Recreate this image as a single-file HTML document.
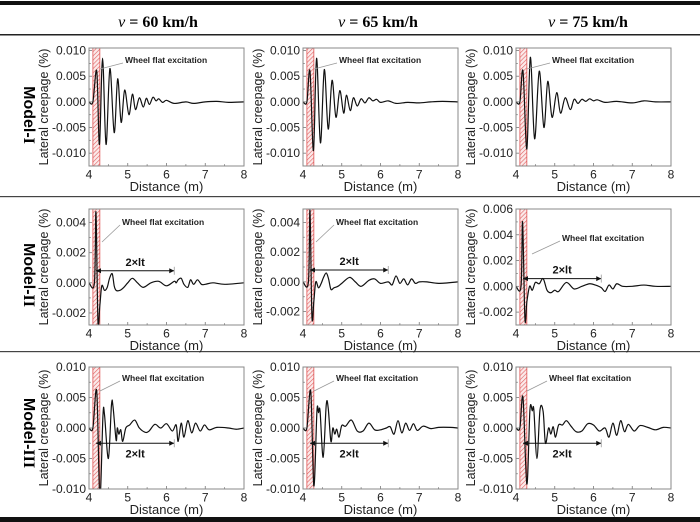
<!DOCTYPE html>
<html><head><meta charset="utf-8">
<style>
html,body{margin:0;padding:0;background:#fff;}
svg{display:block;font-family:"Liberation Sans",Arial,sans-serif;}
</style></head>
<body>
<svg id="fig" width="700" height="522" viewBox="0 0 700 522">
<defs>
<pattern id="hatch" width="3" height="3" patternUnits="userSpaceOnUse" patternTransform="rotate(45)">
<rect width="3" height="3" fill="#fbeaea"/>
<line x1="0" y1="0" x2="0" y2="3" stroke="#e06060" stroke-width="1.2"/>
</pattern>
</defs>
<rect x="0" y="1" width="700" height="4" fill="#111"/>
<rect x="0" y="34" width="700" height="1.5" fill="#222"/>
<rect x="0" y="196" width="700" height="1.2" fill="#444"/>
<rect x="0" y="351" width="700" height="1.2" fill="#444"/>
<rect x="0" y="517" width="700" height="5" fill="#111"/>
<g font-family="'Liberation Serif',serif" font-weight="bold" font-size="16" text-anchor="middle">
<text x="158" y="27"><tspan font-style="italic" font-weight="normal">v</tspan> = 60 km/h</text>
<text x="378" y="27"><tspan font-style="italic" font-weight="normal">v</tspan> = 65 km/h</text>
<text x="588" y="27"><tspan font-style="italic" font-weight="normal">v</tspan> = 75 km/h</text>
</g>
<g font-weight="bold" font-size="16">
<text transform="translate(24,115) rotate(90)" text-anchor="middle">Model-<tspan font-family="'Liberation Serif',serif">I</tspan></text>
<text transform="translate(24,275) rotate(90)" text-anchor="middle">Model-<tspan font-family="'Liberation Serif',serif">II</tspan></text>
<text transform="translate(24,433) rotate(90)" text-anchor="middle">Model-<tspan font-family="'Liberation Serif',serif">III</tspan></text>
</g>
<g id="panels"></g>
</svg>
<script>
const xTicks = [4,5,6,7,8];
const m1v60X = [4,4.1,4.2,4.27,4.35,4.44,4.54,4.65,4.74,4.83,4.92,5.03,5.12,5.2,5.3,5.4,5.48,5.56,5.65,5.73,5.8,5.9,6.0,6.2,6.5,6.7,7.0,7.3,7.6,8];
const m1v60Y = [0,0,0.006,-0.0083,0.0085,-0.0083,0.0065,-0.006,0.0045,-0.004,0.0023,-0.0025,0.0015,-0.0015,0.0008,-0.001,0.0007,-0.0005,0.0009,0.0002,0.0006,-0.0001,0.0003,-0.0003,0,-0.0003,0,0.0001,-0.0001,0];
const m1v65X = [4,4.1,4.18,4.27,4.35,4.45,4.55,4.65,4.75,4.85,4.95,5.05,5.12,5.22,5.3,5.4,5.5,5.6,5.7,5.8,5.9,6.0,6.2,6.4,6.7,7.0,7.3,7.6,8];
const m1v65Y = [0,0,0.006,-0.0095,0.0085,-0.008,0.0063,-0.0053,0.0042,-0.003,0.0022,-0.0022,0.0013,-0.0017,0.0008,-0.0008,0.0006,-0.0002,0.0008,0.0002,0.0005,-0.0001,0.0002,-0.0003,-0.0001,-0.0002,0,0.0001,0];
const m1v75X = [4,4.1,4.18,4.28,4.37,4.48,4.6,4.72,4.82,4.93,5.05,5.15,5.27,5.4,5.5,5.6,5.7,5.8,5.9,6.0,6.1,6.3,6.6,7.0,7.3,7.6,8];
const m1v75Y = [0,0,0.006,-0.0092,0.0087,-0.0072,0.006,-0.005,0.004,-0.003,0.0018,-0.0022,0.0008,-0.0015,0.0005,-0.0003,0.0005,0.0001,0.0006,0.0002,0.0004,-0.0001,0.0001,-0.0002,0.0002,0,0];
const m2v60X = [4,4.14,4.18,4.23,4.28,4.33,4.4,4.47,4.53,4.6,4.65,4.7,4.8,4.9,5.0,5.12,5.25,5.4,5.6,5.8,6.0,6.2,6.25,6.3,6.38,6.45,6.55,6.62,6.7,6.8,6.9,7.0,7.2,7.5,8];
const m2v60Y = [0,0,0.0047,-0.0025,-0.0015,-0.0002,-0.0005,-0.0003,0.0003,0.0006,-0.0002,-0.0005,-0.0005,-0.0003,0,0.0003,0,-0.0003,0,0.0001,-0.0002,0.0001,0,0.0002,0.0003,-0.0001,-0.0003,0.0002,-0.0001,0.0002,-0.0001,-0.0001,0,-0.0001,0];
const m2v65X = [4,4.14,4.18,4.23,4.28,4.33,4.4,4.47,4.53,4.6,4.66,4.72,4.8,4.9,5.0,5.2,5.35,5.5,5.7,5.85,6.0,6.2,6.3,6.4,6.5,6.6,6.7,6.8,6.9,7.0,7.2,7.5,8];
const m2v65Y = [0,0,0.0048,-0.0023,-0.0013,0,-0.0004,-0.0001,0.0003,0.0006,0.0002,-0.0005,-0.0004,-0.0003,-0.0001,0.0003,0,-0.0003,0.0001,0.0002,-0.0001,0,-0.0002,0.0004,-0.0001,0.0002,-0.0002,0.0002,-0.0001,0,0,-0.0001,0];
const m2v75X = [4,4.13,4.17,4.23,4.28,4.35,4.42,4.5,4.6,4.7,4.8,4.9,5.0,5.1,5.3,5.5,5.7,5.9,6.05,6.2,6.3,6.4,6.5,6.6,6.75,7.0,7.3,7.6,8];
const m2v75Y = [0,0,0.005,-0.0025,-0.0012,0,-0.0003,0.0003,0.0002,0.0006,-0.0003,-0.0005,-0.0003,-0.0004,0.0003,-0.0002,0,0.0002,0.0001,-0.0001,-0.0004,0.0001,-0.0002,0.0002,0,0,0.0001,0,0];
const m3v60X = [4,4.1,4.2,4.28,4.36,4.4,4.5,4.58,4.62,4.7,4.73,4.77,4.82,4.87,4.95,5.05,5.18,5.3,5.45,5.55,5.7,5.85,6.0,6.15,6.25,6.3,6.38,6.45,6.55,6.65,6.75,6.87,6.98,7.1,7.3,7.6,7.8,8];
const m3v60Y = [0,0,0.006,-0.0115,0.002,0.0022,-0.005,0.0038,0.0035,-0.002,0,-0.001,-0.0003,-0.0022,0,0.0005,0.0013,0,-0.0007,-0.0005,0.0006,0,0.0007,-0.0005,0.0005,-0.0022,0.0008,-0.0015,0.0012,-0.0008,0.0008,-0.0005,0.0005,-0.0003,0.0001,0,-0.0002,0];
const m3v65X = [4,4.1,4.2,4.28,4.36,4.4,4.44,4.52,4.6,4.65,4.72,4.77,4.82,4.87,4.93,5.0,5.1,5.25,5.4,5.55,5.7,5.85,6.0,6.15,6.25,6.35,6.45,6.55,6.65,6.75,6.85,6.95,7.1,7.3,7.5,7.8,8];
const m3v65Y = [0,0,0.006,-0.0095,0.0028,0.0025,0.0028,-0.0048,0.0038,0.0033,-0.0022,0,-0.001,-0.0002,-0.0015,0.0004,0.0003,0.0013,-0.0005,-0.0005,0.0008,-0.0003,-0.0003,0,0.0002,-0.001,0.0012,-0.0008,0.0008,-0.0004,0.0007,-0.0004,0.0003,-0.0001,0.0001,0.0001,0];
const m3v75X = [4,4.1,4.18,4.28,4.36,4.42,4.46,4.54,4.62,4.7,4.76,4.84,4.9,4.96,5.02,5.1,5.2,5.3,5.42,5.55,5.7,5.85,6.0,6.15,6.3,6.4,6.5,6.6,6.7,6.8,6.9,7.05,7.2,7.4,7.6,7.8,8];
const m3v75Y = [0,0,0.005,-0.0092,0.003,0.0028,0.003,-0.005,0.003,0.0027,-0.0025,0,-0.001,0.0002,-0.0015,0.0005,0.0005,0.0012,0.0003,-0.0006,-0.0005,0.0007,0.0005,-0.0005,0,-0.0015,0.0008,-0.0012,0.0012,-0.0006,0.0006,-0.0005,0.0004,0.0001,-0.0003,0.0001,0];

const row1Ticks = [-0.010,-0.005,0.000,0.005,0.010];
const row2Ticks = [-0.002,0.000,0.002,0.004];
const row2bTicks = [-0.002,0.000,0.002,0.004,0.006];
const row3Ticks = [-0.010,-0.005,0.000,0.005,0.010];

const NS = "http://www.w3.org/2000/svg";
const root = document.getElementById('panels');
function mk(tag, attrs, parent){const e=document.createElementNS(NS,tag);for(const k in attrs)e.setAttribute(k,attrs[k]);(parent||root).appendChild(e);return e;}

const cols=[{x0:89},{x0:303},{x0:516}];
const W=155;
const rows=[{top:48,bot:166},{top:209,bot:325},{top:367,bot:489}];
const panels=[
 {r:0,c:0,xs:m1v60X,ys:m1v60Y,dom:[-0.0125,0.0105],ticks:row1Ticks,dec:3,ann:[36,12,11,21],arrow:null,name:'model1-60'},
 {r:0,c:1,xs:m1v65X,ys:m1v65Y,dom:[-0.0125,0.0105],ticks:row1Ticks,dec:3,ann:[36,12,11,21],arrow:null,name:'model1-65'},
 {r:0,c:2,xs:m1v75X,ys:m1v75Y,dom:[-0.0125,0.0105],ticks:row1Ticks,dec:3,ann:[36,12,11,21],arrow:null,name:'model1-75'},
 {r:1,c:0,xs:m2v60X,ys:m2v60Y,dom:[-0.0028,0.0049],ticks:row2Ticks,dec:3,ann:[33,13,13,33],arrow:[0.0008,-1],name:'model2-60'},
 {r:1,c:1,xs:m2v65X,ys:m2v65Y,dom:[-0.0029,0.0049],ticks:row2Ticks,dec:3,ann:[33,13,13,33],arrow:[0.0008,-1],name:'model2-65'},
 {r:1,c:2,xs:m2v75X,ys:m2v75Y,dom:[-0.003,0.006],ticks:row2bTicks,dec:3,ann:[46,29,16,45],arrow:[0.0006,-1],name:'model2-75'},
 {r:2,c:0,xs:m3v60X,ys:m3v60Y,dom:[-0.010,0.010],ticks:row3Ticks,dec:3,ann:[33,11,11,24],arrow:[-0.0025,1],name:'model3-60'},
 {r:2,c:1,xs:m3v65X,ys:m3v65Y,dom:[-0.010,0.010],ticks:row3Ticks,dec:3,ann:[33,11,11,24],arrow:[-0.0025,1],name:'model3-65'},
 {r:2,c:2,xs:m3v75X,ys:m3v75Y,dom:[-0.010,0.010],ticks:row3Ticks,dec:3,ann:[33,11,11,24],arrow:[-0.0025,1],name:'model3-75'},
];

function smoothPath(pts){
 let d='M'+pts[0][0].toFixed(2)+','+pts[0][1].toFixed(2);
 for(let i=0;i<pts.length-1;i++){
  const p0=pts[i-1]||pts[i],p1=pts[i],p2=pts[i+1],p3=pts[i+2]||p2;
  const c1=[p1[0]+(p2[0]-p0[0])/6,p1[1]+(p2[1]-p0[1])/6];
  const c2=[p2[0]-(p3[0]-p1[0])/6,p2[1]-(p3[1]-p1[1])/6];
  d+='C'+c1[0].toFixed(2)+','+c1[1].toFixed(2)+' '+c2[0].toFixed(2)+','+c2[1].toFixed(2)+' '+p2[0].toFixed(2)+','+p2[1].toFixed(2);
 }
 return d;
}

panels.forEach((p,i)=>{
 const x0=cols[p.c].x0, top=rows[p.r].top, bot=rows[p.r].bot;
 const sx=v=>x0+(v-4)/4*W;
 const sy=v=>bot-(v-p.dom[0])/(p.dom[1]-p.dom[0])*(bot-top);
 const g=mk('g',{});
 
 
 const cid='clip'+i;
 const cp=mk('clipPath',{id:cid},g);mk('rect',{x:x0,y:top,width:W,height:bot-top},cp);
 const h=mk('rect',{x:sx(4.1),y:top,width:sx(4.28)-sx(4.1),height:bot-top,fill:'url(#hatch)',stroke:'#e05555','stroke-width':0.8},g);
 
 
 xTicks.forEach(t=>{
  mk('line',{x1:sx(t),x2:sx(t),y1:bot,y2:bot-3,stroke:'#777','stroke-width':0.8},g);
  if(t<8) mk('line',{x1:sx(t+0.5),x2:sx(t+0.5),y1:bot,y2:bot-1.8,stroke:'#777','stroke-width':0.8},g);
  const tx=mk('text',{x:sx(t),y:bot+12.5,'font-size':12,'text-anchor':'middle',fill:'#222'},g);
  tx.textContent=t;
  
  
 });
 const step=p.ticks[1]-p.ticks[0];
 p.ticks.forEach((t,k)=>{
  const y=sy(t);
  mk('line',{x1:x0,x2:x0+3,y1:y,y2:y,stroke:'#777','stroke-width':0.8},g);
  const ym=sy(t+step/2); if(ym>top) mk('line',{x1:x0,x2:x0+1.8,y1:ym,y2:ym,stroke:'#777','stroke-width':0.8},g);
  const ty=mk('text',{x:x0-3,y:y+4,'font-size':12,'text-anchor':'end',fill:'#222'},g);
  ty.textContent=t.toFixed(p.dec);
  
  
 });
 const pts=p.xs.map((x,k)=>[sx(x),sy(p.ys[k])]);
 const path=mk('path',{d:smoothPath(pts),fill:'none',stroke:'#111','stroke-width':1.2,'clip-path':'url(#'+cid+')'},g);
 
 
 const fr=mk('rect',{x:x0,y:top,width:W,height:bot-top,fill:'none',stroke:'#888','stroke-width':1},g);
 
 
 const a=p.ann;
 mk('line',{x1:x0+a[0]-2,y1:top+a[1]+3,x2:x0+a[2],y2:top+a[3],stroke:'#999','stroke-width':0.8},g);
 const at=mk('text',{x:x0+a[0],y:top+a[1]+3,'font-size':8.5,'font-weight':'bold',fill:'#222'},g);
 at.textContent='Wheel flat excitation';
 
 
 if(p.arrow){
  const ya=sy(p.arrow[0]), xa=sx(4.18), xb=sx(6.2);
  const ag=mk('g',{},g);
  
  
  mk('line',{x1:xa,y1:ya,x2:xb,y2:ya,stroke:'#111','stroke-width':1},ag);
  mk('path',{d:`M${xa},${ya} l5,-2.5 l0,5 z M${xb},${ya} l-5,-2.5 l0,5 z`,fill:'#111'},ag);
  mk('line',{x1:xb,y1:ya-4,x2:xb,y2:ya+4,stroke:'#999','stroke-width':0.8},ag);
  const lt=mk('text',{x:(xa+xb)/2,y:p.arrow[1]<0?ya-5:ya+14,'font-size':11,'font-weight':'bold','text-anchor':'middle',fill:'#111'},ag);
  lt.textContent='2×lt';
  
  
 }
 const xt=mk('text',{x:x0+W/2,y:bot+25,'font-size':13,'text-anchor':'middle',fill:'#222'},g);
 xt.textContent='Distance (m)';
 
 
 const yt=mk('text',{transform:`translate(${x0-41},${(top+bot)/2}) rotate(-90)`,'font-size':12.5,'text-anchor':'middle',fill:'#222'},g);
 yt.textContent='Lateral creepage (%)';
 
 
});
</script>
</body></html>
